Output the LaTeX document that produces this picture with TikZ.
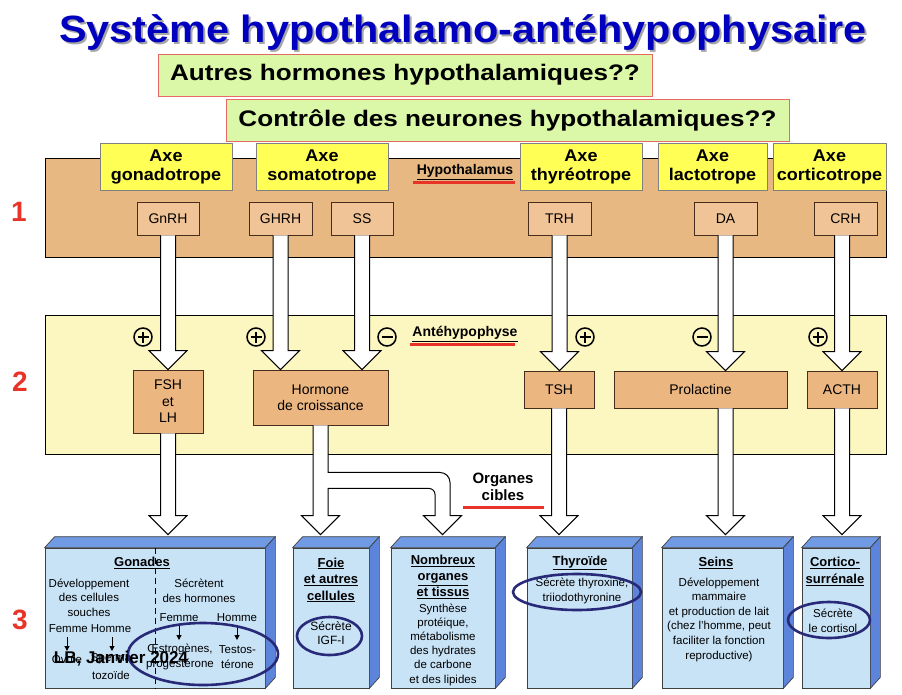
\documentclass[tikz,border=0pt]{standalone}
\usepackage{fontspec}
\setmainfont{Liberation Sans}
\newfontfamily\titlefont[FakeStretch=1.09]{Liberation Sans}
\newfontfamily\greenfont[FakeStretch=1.16]{Liberation Sans}
\newfontfamily\axefont[FakeStretch=1.06]{Liberation Sans}
\usetikzlibrary{calc,arrows.meta}
\definecolor{titleblue}{RGB}{0,0,190}
\definecolor{hypband}{RGB}{232,184,130}
\definecolor{hypbox}{RGB}{240,196,150}
\definecolor{antband}{RGB}{252,246,192}
\definecolor{pitbox}{RGB}{236,182,128}
\definecolor{axeyel}{RGB}{255,255,85}
\definecolor{greenfill}{RGB}{218,248,168}
\definecolor{greenedge}{RGB}{232,105,100}
\definecolor{labred}{RGB}{232,52,40}
\definecolor{bface}{RGB}{200,226,246}
\definecolor{btop}{RGB}{112,154,228}
\definecolor{bsidec}{RGB}{92,132,218}
\definecolor{ovalc}{RGB}{40,42,120}
\definecolor{boxedge}{RGB}{70,45,30}
\newcommand\blkarrow[3]{%
  \draw[barrow] let \p1=(#1), \p2=(#2), \p3=(#3) in
    (\x1-7.5pt,\y2) -- (\x1-7.5pt,\y3+19pt) -- (\x1-19pt,\y3+19pt) -- (\x1,\y3)
    -- (\x1+19pt,\y3+19pt) -- (\x1+7.5pt,\y3+19pt) -- (\x1+7.5pt,\y2);}
\newcommand\bluebox[5]{%
  \node[bfacest, minimum width=#4pt, minimum height=#5pt] (#1) at (#2,#3) {};
  \draw[btopst] (#1.north west) -- ++(10,-11) -- ($(#1.north east)+(10,-11)$) -- (#1.north east) -- cycle;
  \draw[bsidest] (#1.north east) -- ++(10,-11) -- ($(#1.south east)+(10,-11)$) -- (#1.south east) -- cycle;}
\begin{document}
\begin{tikzpicture}[x=1pt,y=-1pt,
  bandst/.style={draw=black, line width=1pt},
  hbox/.style={draw=boxedge, fill=hypbox, line width=0.9pt, inner sep=0pt, align=center,
    font=\fontsize{14}{16.5}\selectfont},
  pbox/.style={draw=boxedge, fill=pitbox, line width=0.9pt, inner sep=0pt, align=center,
    font=\fontsize{14}{16.5}\selectfont},
  axebox/.style={draw=gray, fill=axeyel, line width=0.9pt, inner sep=0pt, align=center,
    font=\axefont\bfseries\fontsize{17}{19}\selectfont},
  gbox/.style={draw=greenedge, fill=greenfill, line width=1pt, inner sep=0pt,
    font=\greenfont\bfseries\fontsize{22.5}{24}\selectfont},
  barrow/.style={draw=black, fill=white, line width=1pt, line join=miter},
  pplus/.style={circle, draw, line width=1.5pt, minimum size=18pt, inner sep=0pt,
    path picture={\draw[line width=1.5pt] ([xshift=-5.5pt]path picture bounding box.center) -- ([xshift=5.5pt]path picture bounding box.center)
      ([yshift=-5.5pt]path picture bounding box.center) -- ([yshift=5.5pt]path picture bounding box.center);}},
  pminus/.style={circle, draw, line width=1.5pt, minimum size=18pt, inner sep=0pt,
    path picture={\draw[line width=1.5pt] ([xshift=-5.5pt]path picture bounding box.center) -- ([xshift=5.5pt]path picture bounding box.center);}},
  bfacest/.style={draw=black!75, fill=bface, line width=0.7pt, inner sep=0pt},
  btopst/.style={draw=black!75, fill=btop, line width=0.7pt},
  bsidest/.style={draw=black!75, fill=bsidec, line width=0.7pt},
  small/.style={font=\fontsize{11.5}{14.5}\selectfont, align=center, inner sep=0pt},
  head/.style={font=\bfseries\fontsize{13}{16.5}\selectfont, align=center, inner sep=0pt},
  oval/.style={draw=ovalc, line width=2.6pt},
  numlab/.style={text=labred, font=\bfseries\fontsize{28}{28}\selectfont},
  redline/.style={draw=labred, line width=3pt},
  tagl/.style={font=\bfseries\fontsize{14}{17}\selectfont, align=center, inner sep=0pt},
  smarr/.style={line width=1pt, -{Triangle[width=5pt,length=5pt]}}
]
\useasboundingbox (0,0) rectangle (902,694);

% title
\node[anchor=base, text=black!35, font=\titlefont\bfseries\fontsize{38}{40}\selectfont] (titlesh) at (465,44) {Système hypothalamo-antéhypophysaire};
\node[anchor=base, text=titleblue, font=\titlefont\bfseries\fontsize{38}{40}\selectfont] (title) at (463,42) {Système hypothalamo-antéhypophysaire};

% green boxes
\node[gbox, minimum width=494pt, minimum height=42pt] (g1) at (405,75) {Autres hormones hypothalamiques??};
\node[gbox, minimum width=563pt, minimum height=42pt] (g2) at (507.5,120) {Contrôle des neurones hypothalamiques??};

% bands
\node[bandst, fill=hypband, minimum width=841pt, minimum height=99pt, inner sep=0pt] (hypo) at (465.5,207.5) {};
\node[bandst, fill=antband, minimum width=841pt, minimum height=139pt, inner sep=0pt] (ante) at (465.5,384.5) {};

% axe boxes
\node[axebox, minimum width=132pt, minimum height=47pt] (axgon) at (166,166.5) {Axe\\gonadotrope};
\node[axebox, minimum width=132pt, minimum height=47pt] (axsom) at (322,166.5) {Axe\\somatotrope};
\node[axebox, minimum width=122pt, minimum height=47pt] (axthy) at (581,166.5) {Axe\\thyréotrope};
\node[axebox, minimum width=109pt, minimum height=47pt] (axlac) at (712.5,166.5) {Axe\\lactotrope};
\node[axebox, minimum width=113pt, minimum height=47pt] (axcor) at (829.5,166.5) {Axe\\corticotrope};

% region labels
\node[tagl] (hyplab) at (465,172) {\underline{Hypothalamus}};
\draw[redline] (413,182.5) -- (515,182.5);
\node[tagl] (antlab) at (465,334) {\underline{Antéhypophyse}};
\draw[redline] (410,344) -- (515,344);
\node[tagl, font=\bfseries\fontsize{15}{17}\selectfont] (orglab) at (503,486.5) {Organes\\cibles};
\draw[redline] (463,507) -- (544,507);

\node[numlab] (n1) at (19,212) {1};
\node[numlab] (n2) at (20,382) {2};
\node[numlab] (n3) at (20,620) {3};

% hypothalamic hormones
\node[hbox, minimum width=62pt, minimum height=33pt] (gnrh) at (168,218.5) {GnRH};
\node[hbox, minimum width=63pt, minimum height=33pt] (ghrh) at (280.5,218.5) {GHRH};
\node[hbox, minimum width=62pt, minimum height=33pt] (ss) at (362,218.5) {SS};
\node[hbox, minimum width=63pt, minimum height=33pt] (trh) at (559.5,218.5) {TRH};
\node[hbox, minimum width=63pt, minimum height=33pt] (da) at (725.5,218.5) {DA};
\node[hbox, minimum width=63pt, minimum height=33pt] (crh) at (845.5,218.5) {CRH};

% pituitary hormones
\node[pbox, minimum width=70pt, minimum height=63pt] (fsh) at (168,401.5) {FSH\\et\\LH};
\node[pbox, minimum width=135pt, minimum height=55pt] (hgh) at (320.5,397.5) {Hormone\\de croissance};
\node[pbox, minimum width=70pt, minimum height=37pt] (tsh) at (559,389.5) {TSH};
\node[pbox, minimum width=173pt, minimum height=37pt] (prl) at (700.5,389.5) {Prolactine};
\node[pbox, minimum width=70pt, minimum height=37pt] (acth) at (842,389.5) {ACTH};

% top arrows
\blkarrow{gnrh}{gnrh.south}{fsh.north}
\blkarrow{ghrh}{ghrh.south}{hgh.north}
\blkarrow{ss}{ss.south}{hgh.north}
\blkarrow{trh}{trh.south}{tsh.north}
\blkarrow{da}{da.south}{prl.north}
\blkarrow{acth}{crh.south}{acth.north}

% plus / minus
\node[pplus] (s1) at (143,337) {};
\node[pplus] (s2) at (256,337) {};
\node[pminus] (s3) at (387,337) {};
\node[pplus] (s4) at (585,337) {};
\node[pminus] (s5) at (702,337) {};
\node[pplus] (s6) at (818,337) {};

% target organs
\bluebox{gon}{155}{618}{220}{140}
\bluebox{foie}{331}{618}{76}{140}
\bluebox{nomb}{443}{618}{104}{140}
\bluebox{thy}{579.5}{618}{105}{140}
\bluebox{seins}{722.5}{618}{121}{140}
\bluebox{cort}{836}{618}{68}{140}

% bottom arrows
\blkarrow{fsh}{fsh.south}{$(gon.north)+(0,-13)$}
\blkarrow{tsh}{tsh.south}{$(thy.north)+(0,-13)$}
\blkarrow{da}{prl.south}{$(seins.north)+(0,-13)$}
\blkarrow{acth}{acth.south}{$(cort.north)+(0,-13)$}
\draw[barrow] let \p1=(hgh.south), \p2=(foie.north), \p3=(nomb.north) in
  (\x1-7.5pt,\y1) -- (\x1-7.5pt,\y2+32pt) -- (\x1-19pt,\y2+32pt) -- (\x1,\y2+13pt)
  -- (\x1+19pt,\y2+32pt) -- (\x1+7.5pt,\y2+32pt)
  -- (\x1+7.5pt,\y1-63pt) -- (\x3-14pt,\y1-63pt) arc[start angle=90,end angle=0,radius=6pt]
  -- (\x3-8pt,\y3+32pt) -- (\x3-19.5pt,\y3+32pt) -- (\x3-0.5pt,\y3+13pt) -- (\x3+18.5pt,\y3+32pt)
  -- (\x3+7pt,\y3+32pt) -- (\x3+7pt,\y1-57pt) arc[start angle=0,end angle=90,radius=10pt]
  -- (\x1+7.5pt,\y1-47pt) -- (\x1+7.5pt,\y1);

% Gonades content
\draw[black, line width=0.9pt, dash pattern=on 6pt off 4pt] (gon.north) -- (gon.south);
\node[head] (gonh) at (142,563) {\underline{Gonades}};
\node[small] (gonl1) at (89,597.5) {Développement\\des cellules\\souches};
\node[small] (gonl2) at (90,629) {Femme Homme};
\draw[smarr] (67,637) -- (67,651);
\draw[smarr] (112,637) -- (112,651);
\node[small] (ovu) at (67,659) {Ovule};
\node[small] (spe) at (113,659) {Sperma-};
\node[small] (toz) at (111,675) {tozoïde};
\node[small] (gonr1) at (199,591) {Sécrètent\\des hormones};
\node[small] (fem) at (179,618) {Femme};
\node[small] (hom) at (237,618) {Homme};
\draw[smarr] (179,625) -- (179,640);
\draw[smarr] (237,625) -- (237,640);
\node[small] (oes) at (180,657) {Œstrogènes,\\progestérone};
\node[small] (tes) at (237.5,657) {Testos-\\térone};
\draw[oval] (203,654) ellipse [x radius=75pt, y radius=31pt];
\node[anchor=base, font=\bfseries\fontsize{17}{17}\selectfont, inner sep=0pt] (wm) at (121,663) {LB, Janvier 2024};

% Foie
\node[head] (foieh) at (331,580) {\underline{Foie}\\\underline{et autres}\\\underline{cellules}};
\node[small, font=\fontsize{12}{14}\selectfont] (foieb) at (331,633) {Sécrète\\IGF-I};
\draw[oval] (329.5,636) ellipse [x radius=32.5pt, y radius=19pt];

% Nombreux
\node[head, font=\bfseries\fontsize{13}{16}\selectfont] (nombh) at (443,577) {\underline{Nombreux}\\\underline{organes}\\\underline{et tissus}};
\node[small, font=\fontsize{11.5}{14.2}\selectfont] (nombb) at (443,644.5) {Synthèse\\protéique,\\métabolisme\\des hydrates\\de carbone\\et des lipides};

% Thyroide
\node[head] (thyh) at (580,563) {\underline{Thyroïde}};
\node[small, font=\fontsize{11.5}{15}\selectfont] (thyb) at (582,590.5) {Sécrète thyroxine,\\triiodothyronine};
\draw[oval] (577,592) ellipse [x radius=64pt, y radius=18pt];

% Seins
\node[head] (seinsh) at (716,563) {\underline{Seins}};
\node[small, font=\fontsize{11.5}{14.6}\selectfont] (seinsb) at (719,619.5) {Développement\\mammaire\\et production de lait\\(chez l'homme, peut\\faciliter la fonction\\reproductive)};

% Cortico
\node[head, font=\bfseries\fontsize{13}{17}\selectfont] (corth) at (835,571.5) {\underline{Cortico-}\\\underline{surrénale}};
\node[small, font=\fontsize{11.5}{15}\selectfont] (cortb) at (833,620.5) {Sécrète\\le cortisol};
\draw[oval] (829,620) ellipse [x radius=41pt, y radius=18pt];
\end{tikzpicture}
\end{document}
